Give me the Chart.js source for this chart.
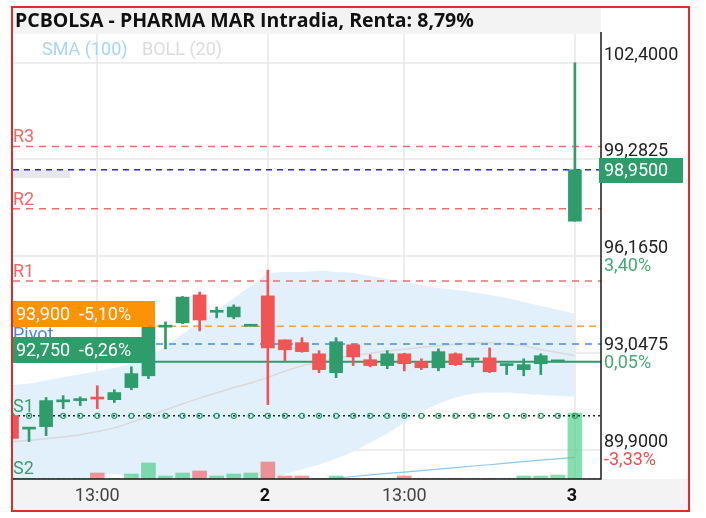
<!DOCTYPE html>
<html>
<head>
  <meta charset="UTF-8">
  <title>PCBOLSA - PHARMA MAR Intradia</title>
  <script src="https://cdn.jsdelivr.net/npm/chart.js@4"></script>
  <style>
    html, body { margin: 0; padding: 0; background: #fff; }
    canvas { display: block; }
  </style>
</head>
<body>
<canvas id="chart" width="706" height="518"></canvas>
<script>
  // 30 min candles: day 1 afternoon, day 2 full session, day 3 first candle
  const times = [
    '10:30','11:00','11:30','12:00','12:30','13:00','13:30','14:00','14:30','15:00',
    '15:30','16:00','16:30','17:00','17:30',
    '09:00','09:30','10:00','10:30','11:00','11:30','12:00','12:30','13:00','13:30',
    '14:00','14:30','15:00','15:30','16:00','16:30','17:00','17:30',
    '09:00'
  ];
  const opens  = [91.02, 90.58, 90.66, 91.46, 91.50, 91.57, 91.53, 91.92, 92.30, 93.87,
                  94.01, 94.91, 94.35, 94.20, 93.90,
                  94.88, 93.46, 93.37, 93.01, 92.40, 93.30, 92.82, 92.63, 93.01, 92.75,
                  92.56, 93.01, 92.81, 92.88, 92.63, 92.50, 92.69, 92.75,
                  97.29];
  const highs  = [91.05, 90.62, 91.60, 91.66, 91.62, 91.98, 91.85, 92.59, 93.88, 94.04,
                  94.86, 95.00, 94.52, 94.59, 93.90,
                  95.71, 93.46, 93.53, 93.11, 93.53, 93.32, 92.98, 93.11, 93.03, 92.85,
                  93.17, 93.04, 92.84, 93.20, 92.68, 92.85, 93.01, 92.75,
                  102.40];
  const lows   = [90.25, 90.18, 90.37, 91.24, 91.34, 91.24, 91.44, 91.85, 92.21, 93.17,
                  93.98, 93.75, 94.17, 94.14, 93.90,
                  91.37, 92.79, 93.06, 92.40, 92.24, 92.63, 92.59, 92.53, 92.46, 92.50,
                  92.46, 92.63, 92.59, 92.40, 92.34, 92.30, 92.34, 92.75,
                  97.29];
  const closes = [90.28, 90.60, 91.50, 91.47, 91.51, 91.55, 91.76, 92.37, 93.88, 93.88,
                  94.84, 94.10, 94.35, 94.52, 93.90,
                  93.20, 93.14, 93.08, 92.50, 93.40, 92.91, 92.63, 93.01, 92.69, 92.56,
                  93.08, 92.66, 92.82, 92.43, 92.66, 92.66, 92.95, 92.75,
                  98.95];
  // volume, thousands of shares
  const volumes = [5, 5, 5, 5, 5, 60, 5, 50, 160, 30,
                   60, 80, 30, 50, 60,
                   170, 30, 30, 5, 30, 5, 5, 5, 30, 5,
                   5, 5, 5, 5, 5, 30, 30, 40,
                   660];
  const bollUpper = [92.00, 92.05, 92.15, 92.25, 92.35, 92.45, 92.55, 92.70, 92.90, 93.27,
                     93.65, 94.04, 94.42, 94.81, 95.20,
                     95.58, 95.65, 95.65, 95.68, 95.65, 95.62, 95.52, 95.42, 95.33, 95.23,
                     95.13, 95.07, 95.00, 94.91, 94.81, 94.68, 94.55, 94.43,
                     94.30];
  const bollMid   = [90.18, 90.22, 90.27, 90.33, 90.40, 90.50, 90.62, 90.80, 91.00, 91.20,
                     91.40, 91.58, 91.75, 91.92, 92.07,
                     92.25, 92.45, 92.62, 92.75, 92.87, 92.95, 93.03, 93.10, 93.16, 93.22,
                     93.27, 93.32, 93.36, 93.37, 93.33, 93.27, 93.15, 93.05,
                     92.95];
  const bollLower = [88.30, 88.50, 88.70, 88.85, 88.95, 89.05, 89.12, 89.05, 88.90, 88.70,
                     88.50, 88.40, 88.40, 88.45, 88.60,
                     88.85, 89.12, 89.28, 89.44, 89.63, 89.86, 90.15, 90.44, 90.79, 91.15,
                     91.40, 91.60, 91.72, 91.76, 91.76, 91.72, 91.69, 91.66,
                     91.63];
  const sma100 = [null, null, null, null, null, null, null, null, null, null,
                  null, null, null, null, null,
                  88.81, 88.86, 88.91, 88.96, 89.00, 89.05, 89.10, 89.15, 89.19, 89.24,
                  89.29, 89.34, 89.39, 89.43, 89.48, 89.53, 89.58, 89.62,
                  89.67];

  // pivot levels
  const levelNames  = ['R3', 'R2', 'R1', 'Pivot', 'S1', 'S2'];
  const levelValues = [99.70, 97.69, 95.36, 93.33, 91.01, 88.96];
  const lastPrice = 98.95;
  const lastPriceLabel = '98,9500';
  const markValues = [93.90, 92.75];
  const markLabels = ['93,900  -5,10%', '92,750  -6,26%'];

  // axis ticks
  const xTickSlots  = [5, 15, 23, 33];
  const xTickLabels = ['13:00', '2', '13:00', '3'];
  const xTickBold   = [false, true, false, true];
  const yTicks      = [89.9, 93.0475, 96.165, 99.2825, 102.4];
  const yTickLabels = ['89,9000', '93,0475', '96,1650', '99,2825', '102,4000'];
  const yPctLabels  = ['-3,33%', '0,05%', '3,40%', '10,10%'];

  const title = 'PCBOLSA - PHARMA MAR Intradia, Renta: 8,79%';
  const xMin = 0.06, xMax = 34.53, yMin = 88.97, yMax = 103.33, volMax = 4450;

  const UP = '#2e9c6b', DOWN = '#f25454';
  const up = i => closes[i] >= opens[i];

  function levelLine(value, color, dash, width) {
    return {
      type: 'line',
      data: [{ x: xMin, y: value }, { x: xMax, y: value }],
      borderColor: color, borderDash: dash, borderWidth: width,
      pointRadius: 0, order: 4
    };
  }

  const datasets = [
    {
      type: 'bar',
      data: times.map((t, i) => ({ x: i, y: [opens[i], closes[i]] })),
      backgroundColor: times.map((t, i) => up(i) ? UP : DOWN),
      barThickness: 13, minBarLength: 2, grouped: false, order: 1
    },
    {
      type: 'bar',
      data: times.map((t, i) => ({ x: i, y: [lows[i], highs[i]] })),
      backgroundColor: times.map((t, i) => up(i) ? UP : DOWN),
      barThickness: 2, grouped: false, order: 2
    },
    levelLine(levelValues[0], '#f06c6c', [7, 6], 1.5),
    levelLine(levelValues[1], '#f06c6c', [7, 6], 1.5),
    levelLine(levelValues[2], '#f06c6c', [7, 6], 1.5),
    levelLine(levelValues[3], '#4a8be6', [7, 6], 1.5),
    levelLine(levelValues[4], '#222222', [2, 3], 1.5),
    levelLine(levelValues[5], '#2e9c6b', [2, 3], 1.5),
    levelLine(lastPrice, '#2a2ad0', [6, 5], 1.5),
    levelLine(markValues[0], '#f2a23a', [7, 5], 1.5),
    levelLine(markValues[1], '#2e9c6b', [], 2),
    {
      type: 'line',
      data: times.map((t, i) => ({ x: i, y: levelValues[4] })),
      showLine: false, pointStyle: 'circle', pointRadius: 2.5,
      pointBorderColor: '#2e9c6b', pointBackgroundColor: 'rgba(0,0,0,0)',
      pointBorderWidth: 1.3, order: 3
    },
    {
      type: 'bar', yAxisID: 'vol',
      data: times.map((t, i) => ({ x: i, y: volumes[i] })),
      backgroundColor: times.map((t, i) => up(i) ? 'rgba(70,205,130,0.65)' : 'rgba(242,84,84,0.6)'),
      barThickness: 14, grouped: false, order: 5
    },
    {
      type: 'line',
      data: times.map((t, i) => ({ x: i, y: sma100[i] })),
      borderColor: '#8cc6f2', borderWidth: 1.2, pointRadius: 0, order: 6
    },
    {
      type: 'line',
      data: times.map((t, i) => ({ x: i, y: bollMid[i] })),
      borderColor: '#d9d9d9', borderWidth: 1.5, pointRadius: 0, tension: 0.3, order: 7
    },
    {
      type: 'line',
      data: times.map((t, i) => ({ x: i, y: bollUpper[i] })),
      borderWidth: 0, pointRadius: 0, tension: 0.3,
      fill: '+1', backgroundColor: '#e2f0fc', order: 8
    },
    {
      type: 'line',
      data: times.map((t, i) => ({ x: i, y: bollLower[i] })),
      borderWidth: 0, pointRadius: 0, tension: 0.3, order: 9
    }
  ];

  const chrome = {
    id: 'chrome',
    beforeDraw(chart) {
      const { ctx, chartArea: a } = chart;
      ctx.save();
      ctx.fillStyle = '#f3f3f3';
      ctx.fillRect(a.left, 8, a.right - a.left, a.top - 8);
      ctx.fillRect(a.left, a.bottom, 689 - a.left, 511 - a.bottom);
      ctx.restore();
    },
    beforeDatasetsDraw(chart) {
      const { ctx, chartArea: a, scales: { x, y } } = chart;
      ctx.save();
      ctx.strokeStyle = '#e8e8e8';
      ctx.lineWidth = 1.5;
      ctx.beginPath();
      yTicks.forEach(v => {
        const py = Math.round(y.getPixelForValue(v));
        ctx.moveTo(a.left, py); ctx.lineTo(a.right, py);
      });
      xTickSlots.forEach(s => {
        const px = Math.round(x.getPixelForValue(s));
        ctx.moveTo(px, a.top); ctx.lineTo(px, a.bottom);
      });
      ctx.stroke();
      // faded label block at the left of the last price line
      ctx.fillStyle = '#e8e8e8';
      ctx.fillRect(a.left, Math.round(y.getPixelForValue(lastPrice)), 57, 8);
      ctx.restore();
    },
    afterDatasetsDraw(chart) {
      const { ctx, chartArea: a, scales: { x, y } } = chart;
      ctx.save();
      ctx.textBaseline = 'alphabetic';
      ctx.font = '18px Roboto';

      // pivot names
      const nameColors = ['#f26868', '#f26868', '#f26868', '#4a86e8', '#3a9e6e', '#3a9e6e'];
      levelNames.forEach((n, i) => {
        const py = Math.min(y.getPixelForValue(levelValues[i]), a.bottom - 1);
        ctx.fillStyle = nameColors[i];
        ctx.fillText(n, a.left, py - 4);
      });

      // left price boxes
      const boxColors = ['#fb9305', '#2e9c6b'];
      ctx.textBaseline = 'middle';
      markValues.forEach((v, i) => {
        const py = Math.round(y.getPixelForValue(v));
        ctx.fillStyle = boxColors[i];
        ctx.fillRect(a.left, py - 25, 142, 26);
        ctx.fillStyle = '#fff';
        ctx.fillText(markLabels[i], a.left + 3, py - 11);
      });

      // axis lines
      ctx.strokeStyle = '#1a1a1a';
      ctx.lineWidth = 1.5;
      ctx.beginPath();
      ctx.moveTo(a.right, 32); ctx.lineTo(a.right, a.bottom);
      ctx.lineTo(a.left, a.bottom);
      ctx.stroke();

      // right axis labels
      yTicks.forEach((v, i) => {
        const py = Math.round(y.getPixelForValue(v));
        ctx.textBaseline = 'alphabetic';
        ctx.fillStyle = '#222';
        ctx.fillText(yTickLabels[i], a.right + 3, py - 3);
        if (yPctLabels[i]) {
          ctx.textBaseline = 'top';
          ctx.fillStyle = yPctLabels[i].startsWith('-') ? '#f04c4c' : '#45a878';
          ctx.fillText(yPctLabels[i], a.right + 3, py + 1);
        }
      });

      // last price box
      const lp = Math.round(y.getPixelForValue(lastPrice));
      ctx.fillStyle = '#2e9c6b';
      ctx.fillRect(a.right - 2, lp - 12, 84, 25);
      ctx.fillStyle = '#fff';
      ctx.textBaseline = 'middle';
      ctx.fillText(lastPriceLabel, a.right + 3, lp + 1);

      // time axis labels
      ctx.textAlign = 'center';
      xTickSlots.forEach((s, i) => {
        ctx.font = (xTickBold[i] ? 'bold ' : '') + '18px Roboto';
        ctx.fillStyle = xTickBold[i] ? '#111' : '#444';
        ctx.fillText(xTickLabels[i], x.getPixelForValue(s) - (xTickBold[i] ? 3 : 0), a.bottom + 17);
      });

      // indicator legend
      ctx.textAlign = 'left';
      ctx.font = '18px Roboto';
      ctx.fillStyle = '#a8d5f5';
      ctx.fillText('SMA (100)', 42, 50);
      ctx.fillStyle = '#dcdcdc';
      ctx.fillText('BOLL (20)', 142, 50);

      // title
      ctx.font = 'bold 19.5px "Open Sans"';
      ctx.fillStyle = '#111';
      ctx.fillText(title, 15, 21);

      // frame
      ctx.strokeStyle = '#e42b2b';
      ctx.lineWidth = 2;
      ctx.strokeRect(12, 7, 677, 504);
      ctx.restore();
    }
  };

  new Chart(document.getElementById('chart'), {
    type: 'bar',
    data: { datasets },
    options: {
      responsive: false,
      animation: false,
      parsing: true,
      layout: { padding: { left: 13, right: 105, top: 34, bottom: 39 } },
      scales: {
        x: { type: 'linear', min: xMin, max: xMax, offset: false, display: false },
        y: { type: 'linear', min: yMin, max: yMax, display: false },
        vol: { type: 'linear', min: 0, max: volMax, display: false }
      },
      plugins: { legend: { display: false }, tooltip: { enabled: false } }
    },
    plugins: [chrome]
  });
</script>
</body>
</html>
